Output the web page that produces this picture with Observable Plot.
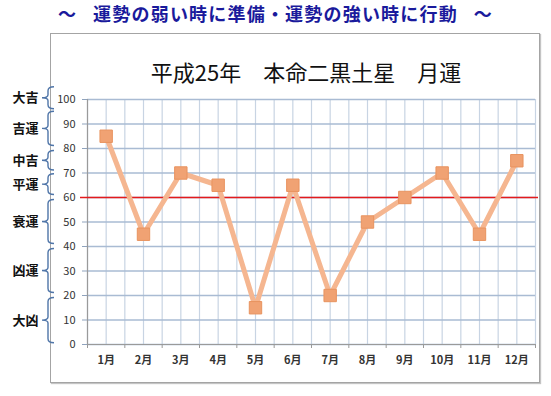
<!DOCTYPE html>
<html><head><meta charset="utf-8">
<script src="https://cdn.jsdelivr.net/npm/d3@7"></script>
<script src="https://cdn.jsdelivr.net/npm/@observablehq/plot@0.6"></script>
<style>
body{margin:0;background:#fff;font-family:"Noto Sans CJK JP","Noto Sans",sans-serif;}
#wrap{position:relative;width:551px;height:396px;overflow:hidden;background:#fff;}
#head{position:absolute;left:0;top:1px;width:551px;text-align:center;font-size:18px;letter-spacing:1.2px;color:#1a1a9c;line-height:24px;white-space:pre;font-weight:700;}
#box{position:absolute;left:50px;top:33px;width:488px;height:348px;border:1px solid #a4a4a4;box-shadow:1px 1px 1px #c4c4c4;}
#title{position:absolute;left:0;top:56px;width:612px;text-align:center;font-size:22px;color:#111;line-height:30px;white-space:nowrap;}
#chart{position:absolute;left:0;top:0;}
</style></head>
<body>
<div id="wrap">
  <div id="box"></div>
  <div id="head">～   運勢の弱い時に準備・運勢の強い時に行動   ～</div>
  <div id="title">平成25年　本命二黒土星　月運</div>
  <div id="chart"></div>
</div>
<script>
const months = ["1月","2月","3月","4月","5月","6月","7月","8月","9月","10月","11月","12月"];
const values = [85, 45, 70, 65, 15, 65, 20, 50, 60, 70, 45, 75];
const yTicks = [0, 10, 20, 30, 40, 50, 60, 70, 80, 90, 100];
const threshold = 60;
const fortuneLabels = ["大吉", "吉運", "中吉", "平運", "衰運", "凶運", "大凶"];
const fortuneFrom  = [96, 81, 71, 61, 41, 21, 0.5];
const fortuneTo    = [105, 95, 79, 69.5, 59, 39, 19];

const data = months.map((m, i) => ({pos: i + 0.5, month: m, value: values[i]}));
const fortunes = fortuneLabels.map((l, i) => ({label: l, from: fortuneFrom[i], to: fortuneTo[i], mid: (fortuneFrom[i] + fortuneTo[i]) / 2}));
const halfGrid = d3.range(0, months.length + 0.25, 0.5);
const bounds = d3.range(0, months.length + 1);

function braces(index, scales, values, dimensions) {
  const g = d3.create("svg:g");
  const xv = 48, xr = 54, xt = 42;
  for (const f of fortunes) {
    const yT = scales.y(f.to), yB = scales.y(f.from), ym = (yT + yB) / 2;
    const p = `M${xr},${yT} Q${xv},${yT} ${xv},${yT + 4} L${xv},${ym - 3} Q${xv},${ym} ${xt},${ym} Q${xv},${ym} ${xv},${ym + 3} L${xv},${yB - 4} Q${xv},${yB} ${xr},${yB}`;
    g.append("path").attr("d", p).attr("fill", "none").attr("stroke", "#4f75a8").attr("stroke-width", 1.4);
  }
  return g.node();
}

const chart = Plot.plot({
  width: 551,
  height: 396,
  marginLeft: 87,
  marginRight: 16,
  marginTop: 99,
  marginBottom: 52,
  style: {background: "transparent", fontFamily: "'Noto Sans CJK JP', 'Noto Sans', sans-serif", fontSize: "11px", color: "#333"},
  x: {type: "linear", domain: [0, months.length]},
  y: {domain: [0, 100]},
  marks: [
    Plot.ruleX(halfGrid, {stroke: "#c8d4e3", strokeWidth: 1.2}),
    Plot.ruleY(yTicks, {stroke: "#a9bbd3", strokeWidth: 1.4}),
    Plot.ruleX([0], {stroke: "#9a9a9a", strokeWidth: 1.2}),
    Plot.ruleY([0], {stroke: "#9a9a9a", strokeWidth: 1.2}),
    Plot.axisY({ticks: yTicks, tickSize: 5, tickPadding: 7, stroke: "#8fa3bd", fill: "#333", fontSize: 11, label: null}),
    Plot.axisX({ticks: bounds, tickSize: 4, tickFormat: () => "", stroke: "#9a9a9a", label: null}),
    Plot.axisX({ticks: data.map(d => d.pos), tickSize: 0, tickPadding: 12, tickFormat: (d, i) => months[i], fill: "#333", fontSize: 11, fontWeight: "bold", label: null}),
    Plot.ruleY([threshold], {stroke: "#e41a1c", strokeWidth: 1.5, insetLeft: -7, insetRight: -3}),
    Plot.line(data, {x: "pos", y: "value", stroke: "#f5b690", strokeWidth: 5, strokeLinejoin: "round"}),
    Plot.dot(data, {x: "pos", y: "value", symbol: "square", r: 7, fill: "#f0a273", stroke: "#e8935f", strokeWidth: 1}),
    braces,
    Plot.text(fortunes, {y: "mid", text: "label", frameAnchor: "left", dx: -49, textAnchor: "end", fill: "#111", fontSize: 13, fontWeight: "bold"})
  ]
});
document.getElementById("chart").append(chart);
</script>
</body></html>
